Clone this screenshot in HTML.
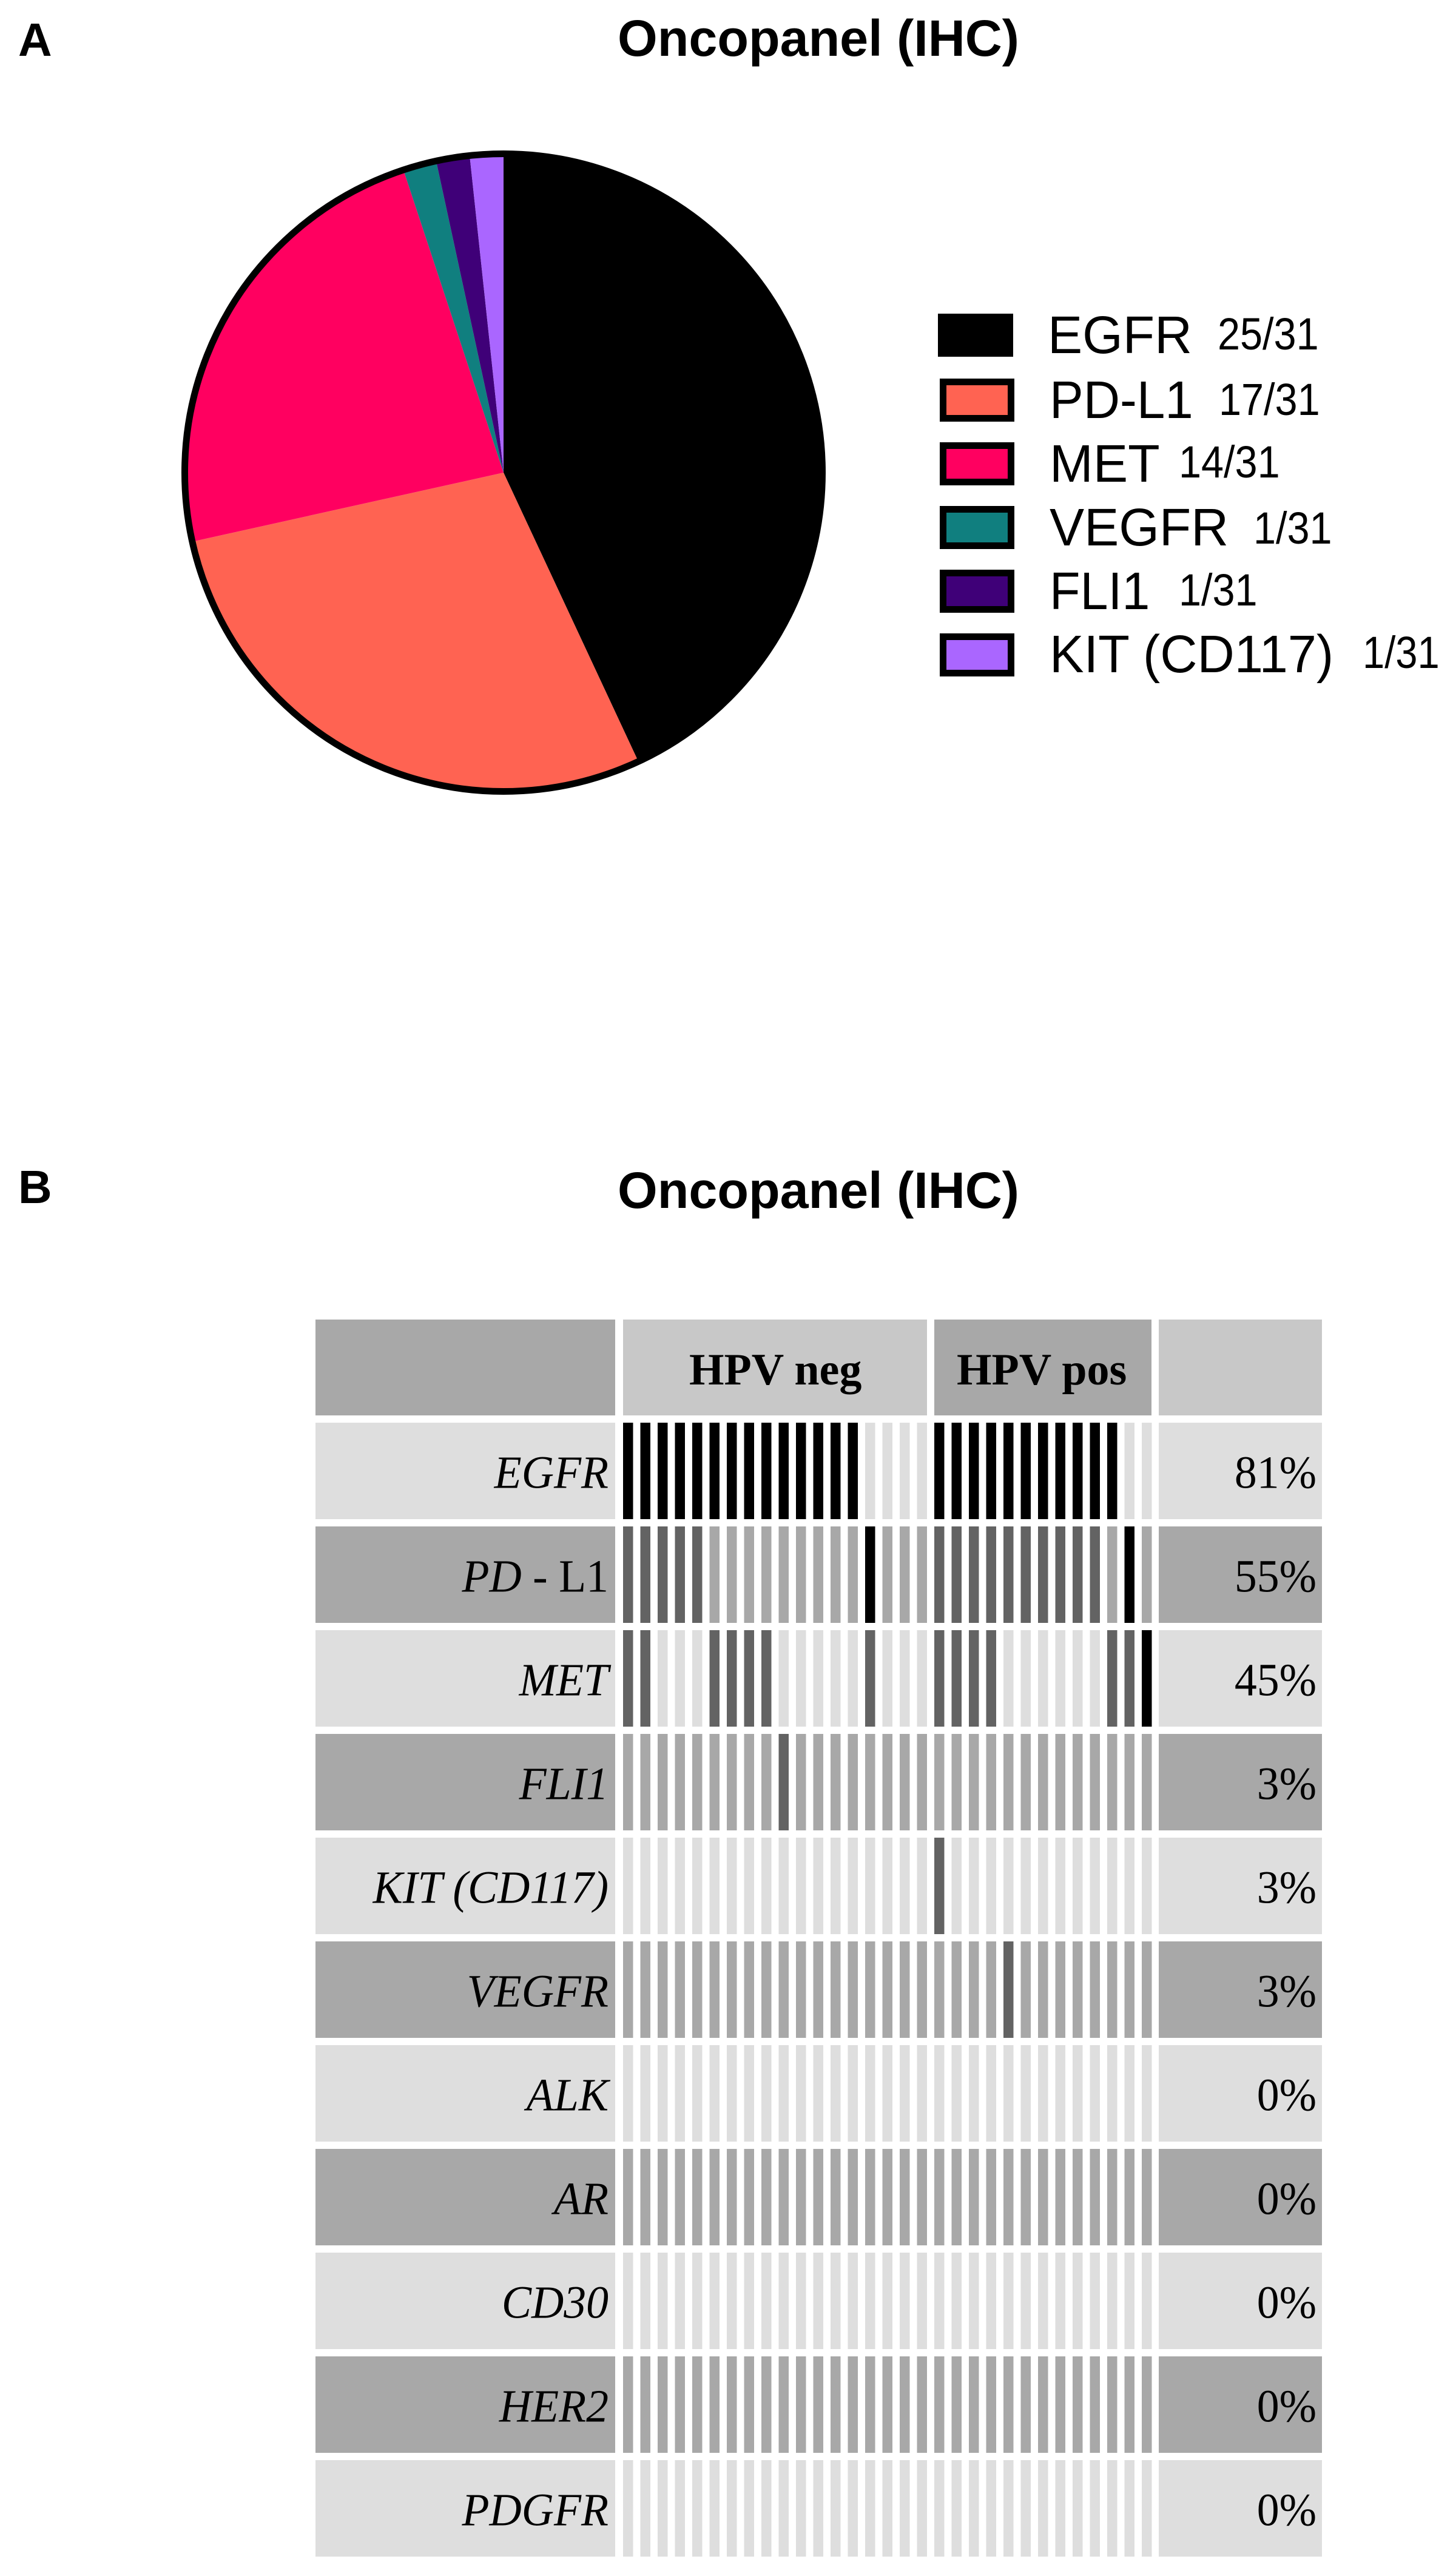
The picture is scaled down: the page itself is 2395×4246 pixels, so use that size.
<!DOCTYPE html>
<html lang="en">
<head>
<meta charset="utf-8">
<title>Oncopanel (IHC)</title>
<style>
  html, body { margin: 0; padding: 0; background: #fff; }
  body { width: 2395px; height: 4246px; overflow: hidden; }
  svg { display: block; }
  .sans { font-family: "Liberation Sans", Arial, sans-serif; }
  .serif { font-family: "Liberation Serif", "Times New Roman", serif; }
</style>
</head>
<body>
<svg id="figure" xmlns="http://www.w3.org/2000/svg" width="2395" height="4246" viewBox="0 0 2395 4246">
  <rect x="0" y="0" width="2395" height="4246" fill="#ffffff"/>

  <text class="sans" x="30" y="92" font-size="77" font-weight="700">A</text>
  <text class="sans" x="1018" y="92" font-size="84.5" font-weight="700">Oncopanel (IHC)</text>
  <g id="pie"></g>

  <g class="sans" fill="#000">
    <g>
      <rect x="1546" y="517" width="124" height="71" fill="#000000"/>
      <text transform="translate(1727 582) scale(.985 1)" font-size="87">EGFR</text>
      <text transform="translate(2007 576) scale(.9 1)" font-size="74">25/31</text>
    </g>
    <g>
      <rect x="1554.5" y="629.5" width="112" height="60" fill="#FF6352" stroke="#000" stroke-width="11"/>
      <text transform="translate(1730 689) scale(.96 1)" font-size="87">PD-L1</text>
      <text transform="translate(2009 684) scale(.9 1)" font-size="74">17/31</text>
    </g>
    <g>
      <rect x="1554.5" y="734.5" width="112" height="60" fill="#FF0060" stroke="#000" stroke-width="11"/>
      <text transform="translate(1730 794) scale(.99 1)" font-size="87">MET</text>
      <text transform="translate(1943 787) scale(.9 1)" font-size="74">14/31</text>
    </g>
    <g>
      <rect x="1554.5" y="839.5" width="112" height="60" fill="#107F7F" stroke="#000" stroke-width="11"/>
      <text transform="translate(1730 899) scale(.985 1)" font-size="87">VEGFR</text>
      <text transform="translate(2066 896) scale(.9 1)" font-size="74">1/31</text>
    </g>
    <g>
      <rect x="1554.5" y="944.5" width="112" height="60" fill="#3F0078" stroke="#000" stroke-width="11"/>
      <text transform="translate(1730 1004) scale(.95 1)" font-size="87">FLI1</text>
      <text transform="translate(1943 998) scale(.9 1)" font-size="74">1/31</text>
    </g>
    <g>
      <rect x="1554.5" y="1049.5" width="112" height="60" fill="#AA66FF" stroke="#000" stroke-width="11"/>
      <text transform="translate(1730 1108) scale(.975 1)" font-size="87">KIT (CD117)</text>
      <text transform="translate(2246 1101) scale(.88 1)" font-size="74">1/31</text>
    </g>
  </g>

  <text class="sans" x="30" y="1983" font-size="77" font-weight="700">B</text>
  <text class="sans" x="1018" y="1991" font-size="84.5" font-weight="700">Oncopanel (IHC)</text>

  <g shape-rendering="crispEdges">
    <rect x="520" y="2175" width="494" height="158" fill="#A8A8A8"/>
    <rect x="1027" y="2175" width="501" height="158" fill="#C8C8C8"/>
    <rect x="1540" y="2175" width="358" height="158" fill="#A8A8A8"/>
    <rect x="1910" y="2175" width="269" height="158" fill="#C8C8C8"/>
  </g>
  <text class="serif" x="1136" y="2282" font-size="74" font-weight="700">HPV neg</text>
  <text class="serif" x="1577" y="2282" font-size="74" font-weight="700">HPV pos</text>

  <g id="table"></g>
</svg>

<script>
// Pie slices
var pieCategories = ['EGFR', 'PD-L1', 'MET', 'VEGFR', 'FLI1', 'KIT (CD117)'];
var pieValues = [25.4, 16.8, 13.8, 1, 1, 1];
var pieColors = ['#000000', '#FF6352', '#FF0060', '#107F7F', '#3F0078', '#AA66FF'];

// Heatmap rows; 0 = negative, 1 = positive, 2 = strongly positive
var egfrStatus  = [2,2,2,2,2,2,2,2,2,2,2,2,2,2,0,0,0,0, 2,2,2,2,2,2,2,2,2,2,2,0,0];
var pdl1Status  = [1,1,1,1,1,0,0,0,0,0,0,0,0,0,2,0,0,0, 1,1,1,1,1,1,1,1,1,1,0,2,0];
var metStatus   = [1,1,0,0,0,1,1,1,1,0,0,0,0,0,1,0,0,0, 1,1,1,1,0,0,0,0,0,0,1,1,2];
var fli1Status  = [0,0,0,0,0,0,0,0,0,1,0,0,0,0,0,0,0,0, 0,0,0,0,0,0,0,0,0,0,0,0,0];
var kitStatus   = [0,0,0,0,0,0,0,0,0,0,0,0,0,0,0,0,0,0, 1,0,0,0,0,0,0,0,0,0,0,0,0];
var vegfrStatus = [0,0,0,0,0,0,0,0,0,0,0,0,0,0,0,0,0,0, 0,0,0,0,1,0,0,0,0,0,0,0,0];
var alkStatus   = [0,0,0,0,0,0,0,0,0,0,0,0,0,0,0,0,0,0, 0,0,0,0,0,0,0,0,0,0,0,0,0];
var arStatus    = [0,0,0,0,0,0,0,0,0,0,0,0,0,0,0,0,0,0, 0,0,0,0,0,0,0,0,0,0,0,0,0];
var cd30Status  = [0,0,0,0,0,0,0,0,0,0,0,0,0,0,0,0,0,0, 0,0,0,0,0,0,0,0,0,0,0,0,0];
var her2Status  = [0,0,0,0,0,0,0,0,0,0,0,0,0,0,0,0,0,0, 0,0,0,0,0,0,0,0,0,0,0,0,0];
var pdgfrStatus = [0,0,0,0,0,0,0,0,0,0,0,0,0,0,0,0,0,0, 0,0,0,0,0,0,0,0,0,0,0,0,0];
var rowLabels = ['EGFR', 'PD - L1', 'MET', 'FLI1', 'KIT (CD117)', 'VEGFR', 'ALK', 'AR', 'CD30', 'HER2', 'PDGFR'];
var rowPercents = ['81%', '55%', '45%', '3%', '3%', '3%', '0%', '0%', '0%', '0%', '0%'];
var rowStatuses = [egfrStatus, pdl1Status, metStatus, fli1Status, kitStatus, vegfrStatus, alkStatus, arStatus, cd30Status, her2Status, pdgfrStatus];

var SVGNS = 'http://www.w3.org/2000/svg';
function make(tag, parent, attrs) {
  var el = document.createElementNS(SVGNS, tag);
  for (var k in attrs) { el.setAttribute(k, attrs[k]); }
  parent.appendChild(el);
  return el;
}
function slug(s) {
  return s.toLowerCase().replace(/[^a-z0-9]+/g, '-').replace(/^-|-$/g, '');
}

/* ---------- pie ---------- */
var pieCx = 830, pieCy = 779, pieR = 525.5;
var pieGroup = document.getElementById('pie');
var pieTotal = pieValues.reduce(function (a, b) { return a + b; }, 0);
function angleOf(v) { return v / pieTotal * 2 * Math.PI; }
function pointAt(a) { return [pieCx + pieR * Math.sin(a), pieCy - pieR * Math.cos(a)]; }
var running = 0;
pieValues.forEach(function (v, i) {
  var a0 = angleOf(running);
  var a1 = angleOf(running + v);
  running += v;
  var p0 = pointAt(a0), p1 = pointAt(a1);
  var large = (a1 - a0) > Math.PI ? 1 : 0;
  var slice = make('path', pieGroup, {
    d: 'M' + pieCx + ' ' + pieCy + 'L' + p0[0] + ' ' + p0[1] + 'A' + pieR + ' ' + pieR + ' 0 ' + large + ' 1 ' + p1[0] + ' ' + p1[1] + 'Z',
    fill: pieColors[i]
  });
  
  
});
var pieOutline = make('circle', pieGroup, { cx: pieCx, cy: pieCy, r: pieR, fill: 'none', stroke: '#000', 'stroke-width': 11 });



/* ---------- heatmap table ---------- */
var table = document.getElementById('table');
var rowTop0 = 2345, rowPitch = 171, rowHeight = 159;
var barX0 = 1027, barPitch = 28.5, barWidth = 16.5;
function rowY(r) { return rowTop0 + r * rowPitch; }
function barX(c) { return barX0 + c * barPitch; }
var bandColors = ['#DEDEDE', '#A8A8A8'];
var statusColors = { 1: '#636363', 2: '#000000' };

rowStatuses.forEach(function (status, r) {
  var y = rowY(r);
  var band = bandColors[r % 2];
  var key = slug(rowLabels[r]);
  var g = make('g', table, {});
  
  

  var labelCell = make('rect', g, { x: 520, y: y, width: 494, height: rowHeight, fill: band, 'shape-rendering': 'crispEdges' });
  
  

  status.forEach(function (s, c) {
    var cell = make('rect', g, { x: barX(c), y: y, width: barWidth, height: rowHeight, fill: s ? statusColors[s] : band });
    
    
  });

  var pctCell = make('rect', g, { x: 1910, y: y, width: 269, height: rowHeight, fill: band, 'shape-rendering': 'crispEdges' });
  
  

  var base = y + 107.5;
  var label = make('text', g, {
    'class': 'serif',
    transform: 'translate(1003 ' + base + ') scale(.97 1)',
    'text-anchor': 'end',
    'font-size': 76,
    'font-style': 'italic'
  });
  
  
  var parts = rowLabels[r].split(' - ');
  if (parts.length === 2) {
    var ital = make('tspan', label, {});
    ital.textContent = parts[0];
    var rest = make('tspan', label, { 'font-style': 'normal' });
    rest.textContent = ' - ' + parts[1];
  } else {
    label.textContent = rowLabels[r];
  }

  var pct = make('text', g, {
    'class': 'serif',
    transform: 'translate(2170 ' + base + ') scale(.97 1)',
    'text-anchor': 'end',
    'font-size': 76
  });
  
  
  pct.textContent = rowPercents[r];
});
</script>
</body>
</html>
